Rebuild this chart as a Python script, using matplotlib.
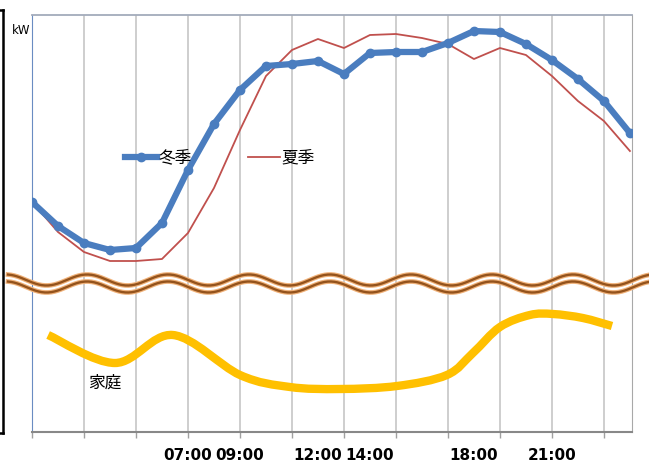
import numpy as np
import matplotlib
matplotlib.use('Agg')
import matplotlib.pyplot as plt
import matplotlib.transforms as mtransforms
from matplotlib.path import Path
from matplotlib.patches import PathPatch
from matplotlib.lines import Line2D

plt.rcParams['font.family'] = ['Noto Sans CJK JP', 'DejaVu Sans']

# hourly load, arbitrary kW scale (no y ticks in the original)
hours = np.arange(1, 25)
winter = [2.30, 2.06, 1.89, 1.82, 1.84, 2.09, 2.62, 3.08, 3.42, 3.66, 3.68, 3.71,
          3.58, 3.79, 3.80, 3.80, 3.89, 4.01, 4.00, 3.88, 3.72, 3.53, 3.31, 2.99]
summer = [2.30, 2.00, 1.80, 1.71, 1.71, 1.73, 1.99, 2.44, 3.02, 3.56, 3.82, 3.93,
          3.84, 3.97, 3.98, 3.94, 3.88, 3.73, 3.84, 3.77, 3.56, 3.31, 3.11, 2.81]

# household curve (lower, separate scale)
home_hours = [1.62, 4.19, 6.42, 9.0, 10.92, 12.85, 15.04,
              16.96, 17.96, 19.0, 20.15, 21.04, 22.19, 23.31]
home_load = [0.97, 0.69, 0.97, 0.57, 0.45, 0.43, 0.46,
             0.57, 0.79, 1.05, 1.17, 1.18, 1.14, 1.06]

label_hours = [7, 9, 12, 14, 18, 21]
label_text = ['07:00', '09:00', '12:00', '14:00', '18:00', '21:00']


def smooth_path(x, y):
    # catmull-rom through the points, as cubic beziers
    p = np.column_stack([x, y])
    verts = [p[0]]
    codes = [Path.MOVETO]
    n = len(p)
    for i in range(n - 1):
        p0 = p[i - 1] if i > 0 else p[i]
        p3 = p[i + 2] if i + 2 < n else p[i + 1]
        c1 = p[i] + (p[i + 1] - p0) / 6
        c2 = p[i + 1] - (p3 - p[i]) / 6
        verts += [c1, c2, p[i + 1]]
        codes += [Path.CURVE4] * 3
    return Path(verts, codes)


W, H = 649, 462
fig = plt.figure(figsize=(W / 100, H / 100), dpi=100)
ax = fig.add_axes([32 / W, 30 / H, 600 / W, 417 / H])
ax.set_xlim(1, 24.08)
ax.set_ylim(0, 4.17)

ax.set_xticks(np.arange(1, 24, 2))
ax.set_xticklabels([])
ax.tick_params(axis='x', which='major', direction='out', length=4,
               color='#a0a0a0', width=1)
ax.set_yticks([])
ax.xaxis.grid(True, which='major', color='#c6c6c6', lw=1.2)
ax.set_axisbelow(True)

trans = mtransforms.blended_transform_factory(ax.transData, fig.transFigure)
for hx, txt in zip(label_hours, label_text):
    ax.text(hx, (H - 455) / H, txt, transform=trans, ha='center', va='center',
            fontfamily='DejaVu Sans', fontweight='bold', fontsize=11)

ax.spines['bottom'].set_color('#888888')
ax.spines['bottom'].set_linewidth(1.5)
ax.spines['left'].set_color('#6a8cc2')
ax.spines['top'].set_color('#a3abbb')
ax.spines['top'].set_linewidth(1.3)
ax.spines['right'].set_color('#a8a8a8')

ax.plot(hours, summer, color='#c0504d', lw=1.3, label='夏季', zorder=3)
ax.plot(hours, winter, color='#4a7dbf', lw=4.5, marker='o', ms=6,
        label='冬季', zorder=4)

ax.add_patch(PathPatch(smooth_path(home_hours, home_load), facecolor='none',
                       edgecolor='#ffc000', lw=6, capstyle='butt', zorder=3))
ax.text(3.8, 0.49, '家庭', fontsize=12, ha='center', va='center')

h, l = ax.get_legend_handles_labels()
ax.legend(h[::-1], l[::-1], ncol=2, frameon=False, fontsize=12,
          loc='center left', bbox_to_anchor=(0.155, 0.657),
          handlelength=1.9, handletextpad=0.1, columnspacing=3.4,
          borderpad=0, borderaxespad=0)

# break mark across the chart
xs = np.linspace(8, W, 400)
top = 280 - 5.5 * np.cos(2 * np.pi * (xs - 6) / 81)
for py in (top, top + 7):
    fig.add_artist(Line2D(xs / W, (H - py) / H, color='#f0b27a', lw=3.4, zorder=5))
    fig.add_artist(Line2D(xs / W, (H - py) / H, color='#94531c', lw=1.7, zorder=5))

fig.text(12 / W, (H - 30) / H, 'kW', fontsize=8.5, ha='left', va='center',
         fontfamily='DejaVu Sans')

# bracket on the left edge
fig.add_artist(Line2D([3 / W, 3 / W], [(H - 10) / H, (H - 433) / H],
                      color='black', lw=1.8))
fig.add_artist(Line2D([0, 3 / W], [(H - 10) / H, (H - 10) / H], color='black', lw=1.8))
fig.add_artist(Line2D([0, 3 / W], [(H - 433) / H, (H - 433) / H], color='black', lw=1.8))

fig.savefig('out.png', dpi=100)
